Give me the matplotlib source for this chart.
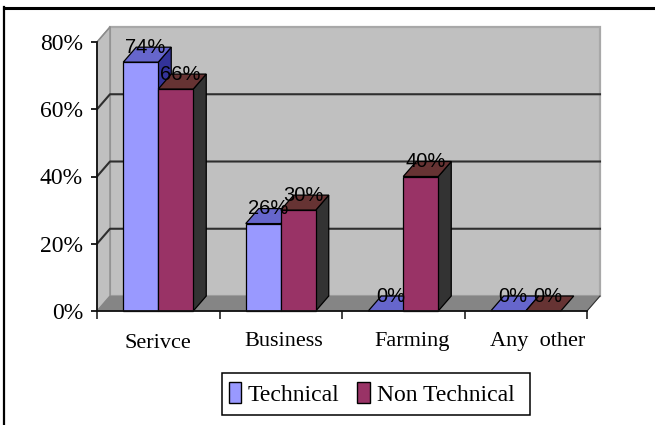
import matplotlib
matplotlib.use('Agg')
import matplotlib.pyplot as plt
from matplotlib.patches import Polygon, Patch, Rectangle
from matplotlib.lines import Line2D

categories = ['Serivce', 'Business', 'Farming', 'Any  other']
technical = [74, 26, 0, 0]
non_technical = [66, 30, 40, 0]
series_names = ['Technical', 'Non Technical']
yticks = [0, 20, 40, 60, 80]
ytick_labels = ['0%', '20%', '40%', '60%', '80%']

W, H = 655, 425
serif = ['Liberation Serif', 'DejaVu Serif']
sans = ['Liberation Sans', 'DejaVu Sans']

# depth of the fake 3d box, in data units
dx = 13 / 122.5
dy = 4.46
bar_w = 35 / 122.5
bar_gap = (1 - 2 * bar_w) / 2

fig = plt.figure(figsize=(W / 100, H / 100), dpi=100)
ax = fig.add_axes([97 / W, 1 - 311 / H, 490 / W, 269 / H])
ax.set_xlim(0, 4)
ax.set_ylim(0, 80)
for s in ['top', 'right']:
    ax.spines[s].set_visible(False)
for s in ['left', 'bottom']:
    ax.spines[s].set_linewidth(1.3)
    ax.spines[s].set_zorder(20)
    ax.spines[s].set_color('#111111')


def poly(pts, face, edge='black', lw=0.9, z=3):
    ax.add_patch(Polygon(pts, closed=True, facecolor=face, edgecolor=edge,
                         linewidth=lw, zorder=z, clip_on=False))


# walls and floor
poly([(dx, dy), (4 + dx, dy), (4 + dx, 80 + dy), (dx, 80 + dy)], '#C0C0C0', '#A8A8A8', 1.6, 1)
poly([(0, 0), (dx, dy), (dx, 80 + dy), (0, 80)], '#C0C0C0', '#8C8C8C', 1.0, 1)
poly([(0, 0), (4, 0), (4 + dx, dy), (dx, dy)], '#858585', '#858585', 0.5, 1)

# gridlines on back wall and left wall
for v in yticks[1:4]:
    ax.plot([0, dx, 4 + dx], [v, v + dy, v + dy], color='#2E2E2E', lw=1.5, zorder=2, clip_on=False)
ax.plot([0, dx], [80, 80 + dy], color='#8C8C8C', lw=1, zorder=2, clip_on=False)
ax.plot([4, 4 + dx], [0, dy], color='#333333', lw=0.8, zorder=2, clip_on=False)


def draw_bar(x, v, front, top, side, z):
    if v > 0:
        poly([(x + bar_w, 0), (x + bar_w + dx, dy), (x + bar_w + dx, v + dy), (x + bar_w, v)], side, z=z)
        poly([(x, 0), (x + bar_w, 0), (x + bar_w, v), (x, v)], front, z=z + 0.2)
    poly([(x, v), (x + bar_w, v), (x + bar_w + dx, v + dy), (x + dx, v + dy)], top, z=z + 0.1)


for i in range(len(categories)):
    x1 = i + bar_gap
    x2 = x1 + bar_w
    draw_bar(x1, technical[i], '#9999FF', '#6666CC', '#333399', 3 + i)
    draw_bar(x2, non_technical[i], '#993366', '#663333', '#333333', 3.5 + i)
    ax.text(x1 + bar_w / 2 + 0.04, technical[i] + dy, '%d%%' % technical[i], family=sans,
            fontsize=14.5, ha='center', va='center', color='black', zorder=15)
    ax.text(x2 + bar_w / 2 + 0.04, non_technical[i] + dy, '%d%%' % non_technical[i], family=sans,
            fontsize=14.5, ha='center', va='center', color='black', zorder=15)

ax.set_yticks(yticks)
ax.set_yticklabels(ytick_labels, family=serif, fontsize=17)
ax.tick_params(axis='y', length=4, width=1.3, pad=6, color='#111111')
ax.set_xticks(range(5))
ax.set_xticklabels([])
ax.tick_params(axis='x', length=6, width=1.1, color='#111111')
# the labels in the source drift right of the category centres
label_shift = [0, 0.025, 0.075, 0.1]
label_y = [-9.7, -9.1, -9.1, -9.1]
for i, name in enumerate(categories):
    ax.text(i + 0.5 + label_shift[i], label_y[i], name, family=serif, fontsize=16,
            ha='center', va='center', color='black')

# legend, box drawn apart because the entries sit left of its centre
fig.add_artist(Rectangle((222 / W, 1 - 415 / H), 308 / W, 42 / H, transform=fig.transFigure,
                         facecolor='white', edgecolor='black', linewidth=1.1))
handles = [Patch(facecolor='#9999FF', edgecolor='black', linewidth=1),
           Patch(facecolor='#993366', edgecolor='black', linewidth=1)]
fig.legend(handles, series_names, loc='center', bbox_to_anchor=(371.5 / W, 1 - 394 / H),
           ncol=2, frameon=False,
           prop={'family': serif, 'size': 17}, handlelength=0.52, handleheight=0.95,
           handletextpad=0.3, columnspacing=0.75, borderpad=0.4, borderaxespad=0)

# page frame from the scanned document
fig.add_artist(Line2D([4 / W, 1], [1 - 7.5 / H, 1 - 7.5 / H], color='black', lw=2.2))
fig.add_artist(Line2D([4 / W, 4 / W], [0, 1 - 7 / H], color='black', lw=1.6))

fig.savefig('out.png', dpi=100)
